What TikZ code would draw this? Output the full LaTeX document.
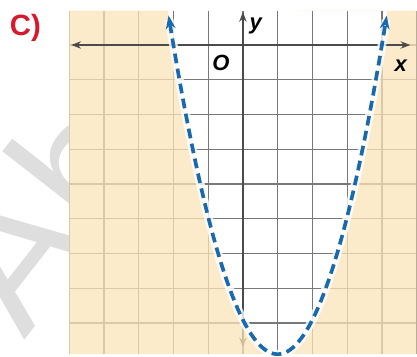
\documentclass[tikz,border=0pt]{standalone}
\usepackage{fontspec}
\setmainfont{Liberation Sans}
\usetikzlibrary{arrows.meta}
\definecolor{beigefill}{RGB}{252,229,186}
\definecolor{gridgray}{RGB}{120,120,120}
\definecolor{axisgray}{RGB}{75,75,75}
\definecolor{curveblue}{RGB}{25,105,175}
\definecolor{labelred}{RGB}{215,25,45}
\definecolor{wmark}{RGB}{222,222,222}
\tikzset{
  gridline/.style={gridgray, line width=1.05pt},
  axisline/.style={axisgray, line width=1.7pt, {Stealth[length=8pt,width=6pt]}-{Stealth[length=8pt,width=6pt]}},
  halo/.style={white, line width=7pt, opacity=0.8},
  curve/.style={curveblue, line width=3pt, dash pattern=on 8pt off 4.5pt, {Stealth[length=11pt,width=8pt]}-{Stealth[length=11pt,width=8pt]}},
  axlabel/.style={font=\fontsize{18}{18}\selectfont\bfseries\itshape, text=black, inner sep=0pt},
}
\begin{document}
\begin{tikzpicture}[x=1cm, y=0.9886cm]
\useasboundingbox (-6.99,-9.054) rectangle (5.01,1.31);
% watermark
\node[wmark, anchor=base west, rotate=52, inner sep=0pt, font=\fontsize{150}{150}\selectfont] (wm) at (-6.3,-8.6) {Ah};
% plot area
\fill[white] (-5,-9) rectangle (5,1);
\draw[gridline] (-5,-9) grid (5,1);
% y-axis (under shading)
\coordinate (ytop) at (0,0.96);
\coordinate (ybot) at (0,-8.8);
\draw[axisline] (ybot) -- (ytop);
% shading outside parabola
\fill[beigefill, opacity=0.75, even odd rule] (-5,-9) rectangle (5,1)
  plot[domain=-2.1623:4.1623, samples=80] (\x, {\x*\x-2*\x-8}) -- cycle;
% x-axis
\coordinate (xl) at (-4.94,0);
\coordinate (xr) at (4.82,0);
\draw[axisline] (xl) -- (xr);
% curve
\draw[halo] plot[domain=-2.12:4.12, samples=80] (\x, {\x*\x-2*\x-8});
\draw[curve] plot[domain=-2.14:4.14, samples=80] (\x, {\x*\x-2*\x-8});
% labels
\node[axlabel] (ylab) at (0.37,0.55) {y};
\node[axlabel] (olab) at (-0.63,-0.52) {O};
\node[axlabel] (xlab) at (4.54,-0.61) {x};
\node[font=\fontsize{24}{24}\selectfont\bfseries, text=labelred, inner sep=0pt] (clab) at (-6.26,0.49) {C)};
\end{tikzpicture}
\end{document}
